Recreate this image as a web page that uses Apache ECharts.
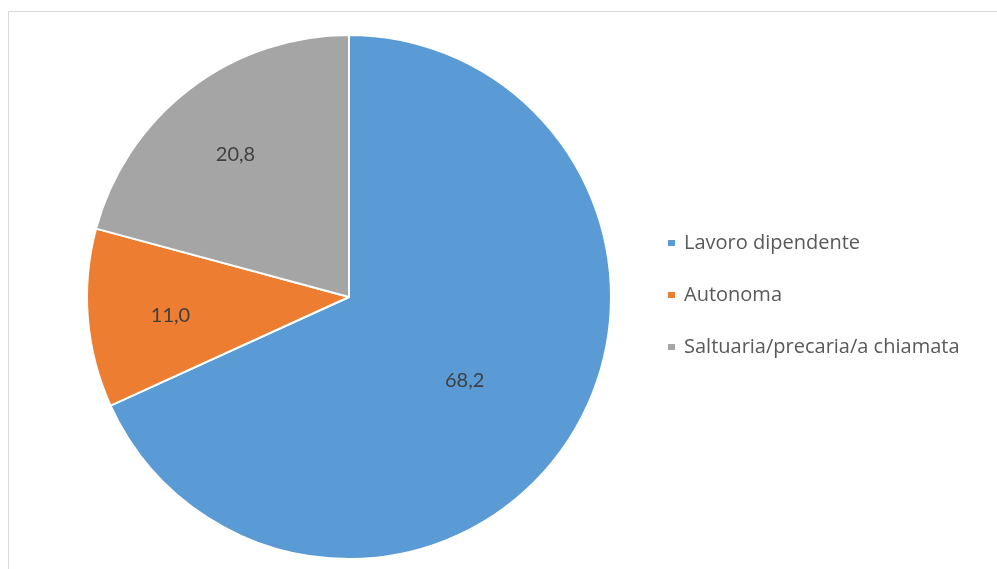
<!DOCTYPE html>
<html>
<head>
<meta charset="utf-8">
<script src="https://cdn.jsdelivr.net/npm/echarts@6/dist/echarts.min.js"></script>
<style>
  html, body { margin: 0; padding: 0; background: #fff; }
  #main { width: 997px; height: 569px; }
</style>
</head>
<body>
<div id="main"></div>
<script>
var categories = ['Lavoro dipendente', 'Autonoma', 'Saltuaria/precaria/a chiamata'];
var values = [68.2, 11.0, 20.8];
var colors = ['#5B9BD5', '#ED7D31', '#A5A5A5'];

// spostamento etichette per avvicinarle alla posizione di Excel
var labelOffsets = [[3, 11], [-45, 8], [-32, -36]];

var dom = document.getElementById('main');
var myChart = echarts.init(dom);

var pieData = categories.map(function (name, i) {
    return {
        name: name,
        value: values[i],
        itemStyle: { color: colors[i] },
        label: { offset: labelOffsets[i] }
    };
});

var option = {
    backgroundColor: '#fff',
    animation: false,
    graphic: [
        {
            type: 'rect',
            shape: { x: 8.5, y: 11.5, width: 1000, height: 600 },
            style: { fill: 'none', stroke: '#D9D9D9', lineWidth: 1 },
            silent: true
        }
    ],
    legend: {
        orient: 'vertical',
        left: 666,
        top: 233,
        padding: 0,
        itemWidth: 9,
        itemHeight: 8,
        itemGap: 32,
        icon: 'rect',
        textStyle: {
            fontFamily: 'Open Sans',
            fontSize: 20,
            color: '#595959',
            padding: [0, 0, 0, 3]
        },
        data: categories
    },
    series: [
        {
            type: 'pie',
            center: [349, 297],
            radius: [0, 262],
            startAngle: 90,
            clockwise: true,
            itemStyle: { borderColor: '#fff', borderWidth: 2 },
            label: {
                show: true,
                position: 'inside',
                fontFamily: 'Lato',
                fontSize: 20,
                color: '#404040',
                formatter: function (p) {
                    return p.value.toFixed(1).replace('.', ',');
                }
            },
            labelLine: { show: false },
            emphasis: { disabled: true },
            data: pieData
        }
    ]
};

myChart.setOption(option, true);

window.addEventListener('resize', function () {
    myChart.resize();
});
</script>
</body>
</html>
